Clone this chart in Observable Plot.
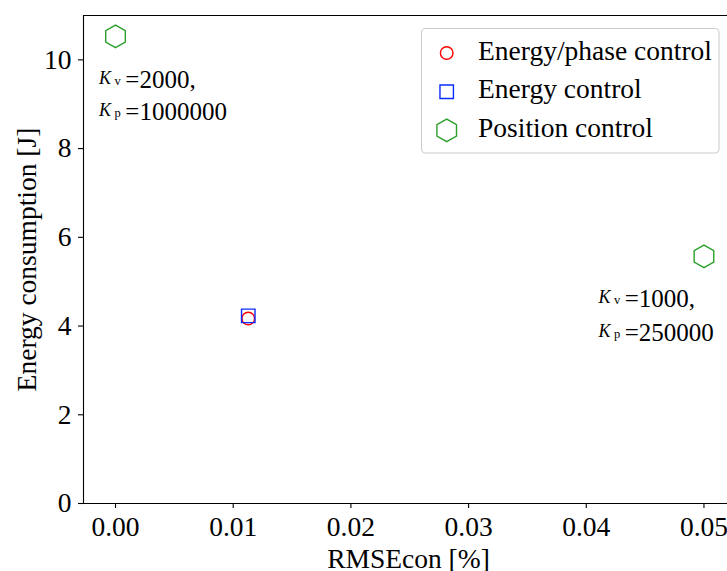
<!DOCTYPE html>
<html><head><meta charset="utf-8">
<script src="https://cdn.jsdelivr.net/npm/d3@7"></script>
<script src="https://cdn.jsdelivr.net/npm/@observablehq/plot@0.6"></script>
<style>
body{margin:0;background:#fff;}
#wrap{position:relative;width:727px;height:571px;overflow:hidden;}
#wrap svg{position:absolute;left:0;top:0;}
#wrap svg text, #wrap svg tspan{font-family:"Liberation Serif","Times New Roman",serif !important;font-variant:normal !important;}
</style></head><body><div id="wrap"></div>
<script>
// ---- data ----
const seriesNames = ["Energy/phase control", "Energy control", "Position control"];
const seriesColors = ["#ff0000", "#0a2cff", "#2ca02c"];
const seriesSymbols = ["circle", "square", "hexagon"];
const pointSeries = ["Energy/phase control", "Energy control", "Position control", "Position control"];
const rmseValues = [0.01128, 0.01128, 0.0, 0.05];
const energyValues = [4.17, 4.23, 10.53, 5.57];
const xTicks = [0, 0.01, 0.02, 0.03, 0.04, 0.05];
const yTicks = [0, 2, 4, 6, 8, 10];
const annotationX = [-0.0014, -0.0014, 0.04103, 0.04103];
const annotationY = [9.37, 8.65, 4.44, 3.67];
const annotationText = ["K_v=2000,", "K_p=1000000", "K_v=1000,", "K_p=250000"];
const xLabel = "RMSEcon [%]";
const yLabel = "Energy consumption [J]";

// ---- config ----
const xDomain = [-0.00272, 0.052];
const yDomain = [0, 11];
const markerR = {circle: 6.3, square: 7.6, hexagon: 9.8};
const FONT = '"Liberation Serif", "Times New Roman", serif';

const points = rmseValues.map((x, i) => ({x, y: energyValues[i], s: pointSeries[i]}));
const annotations = annotationText.map((t, i) => ({x: annotationX[i], y: annotationY[i], t}));

const dotMarks = seriesNames.map((name, i) =>
  Plot.dot(points.filter(d => d.s === name), {
    x: "x", y: "y", symbol: () => seriesSymbols[i], stroke: seriesColors[i],
    fill: "none", r: markerR[seriesSymbols[i]], strokeWidth: 1.4
  })
);

const chart = Plot.plot({
  width: 727, height: 571,
  marginLeft: 83, marginRight: 0, marginTop: 15, marginBottom: 68,
  style: {fontFamily: FONT, fontSize: "27.5px", color: "#000", background: "transparent"},
  x: {domain: xDomain},
  y: {domain: yDomain},
  symbol: {type: "identity"},
  marks: [
    Plot.axisX({ticks: xTicks, tickFormat: d3.format(".2f"), tickSize: 5, tickPadding: 8, label: null, strokeWidth: 1.1, fontSize: 27.5}),
    Plot.axisY({ticks: yTicks, tickFormat: d3.format("d"), tickSize: 5, tickPadding: 7, label: null, strokeWidth: 1.1, fontSize: 27.5}),
    Plot.ruleX([xDomain[0]], {stroke: "#000", strokeWidth: 1.1}),
    Plot.ruleY(yDomain, {stroke: "#000", strokeWidth: 1.1}),
    ...dotMarks,
    Plot.text(annotations, {x: "x", y: "y", text: "t", textAnchor: "start", lineAnchor: "bottom", fontSize: 25, fill: "#000"}),
    Plot.text([xLabel], {frameAnchor: "bottom", textAnchor: "middle", dy: 64, dx: 3, lineAnchor: "bottom", fill: "#000", fontSize: 27.5}),
    Plot.text([yLabel], {frameAnchor: "left", textAnchor: "middle", rotate: -90, dx: -48, lineAnchor: "bottom", fill: "#000", fontSize: 27.5})
  ]
});
document.getElementById("wrap").appendChild(chart);

// math-style K with subscript for annotations
const NS = "http://www.w3.org/2000/svg";
chart.querySelectorAll('g[aria-label="text"] text').forEach(t => {
  const m = t.textContent.match(/^(\w)_(\w)(.*)$/);
  if (!m) return;
  t.textContent = "";
  const a = document.createElementNS(NS, "tspan");
  a.setAttribute("font-style", "italic"); a.setAttribute("font-size", "18"); a.setAttribute("dy", "-4");
  a.textContent = m[1];
  const b = document.createElementNS(NS, "tspan");
  b.setAttribute("font-size", "12.5"); b.setAttribute("dx", "3.5"); b.setAttribute("dy", "1");
  b.textContent = m[2];
  const c = document.createElementNS(NS, "tspan");
  c.setAttribute("dx", "4.5"); c.setAttribute("dy", "3");
  c.textContent = m[3];
  t.append(a, b, c);
});

// legend overlay
const leg = d3.select("#wrap").append("svg").attr("width", 727).attr("height", 571)
  .style("font-family", FONT).style("font-size", "27.5px");
leg.append("rect").attr("x", 421.5).attr("y", 28.5).attr("width", 297.5).attr("height", 124.5)
  .attr("rx", 4).attr("fill", "#fff").attr("fill-opacity", 0.8).attr("stroke", "#cccccc").attr("stroke-width", 1.1);
function symbolPath(sym, r) {
  if (sym === "circle") return d3.symbol(d3.symbolCircle, Math.PI * r * r)();
  if (sym === "square") return d3.symbol(d3.symbolSquare, Math.PI * r * r)();
  const rx = r, ry = r * 2 / Math.sqrt(3), hy = ry / 2;
  return `M0,${ry}L${rx},${hy}L${rx},${-hy}L0,${-ry}L${-rx},${-hy}L${-rx},${hy}Z`;
}
seriesNames.forEach((name, i) => {
  const cy = 53 + i * 38.7;
  leg.append("path").attr("d", symbolPath(seriesSymbols[i], markerR[seriesSymbols[i]]))
    .attr("transform", `translate(446.7,${cy})`).attr("fill", "none")
    .attr("stroke", seriesColors[i]).attr("stroke-width", 1.4);
  leg.append("text").attr("x", 478).attr("y", cy + 6.5).attr("fill", "#000").text(name);
});
</script>
</body></html>
